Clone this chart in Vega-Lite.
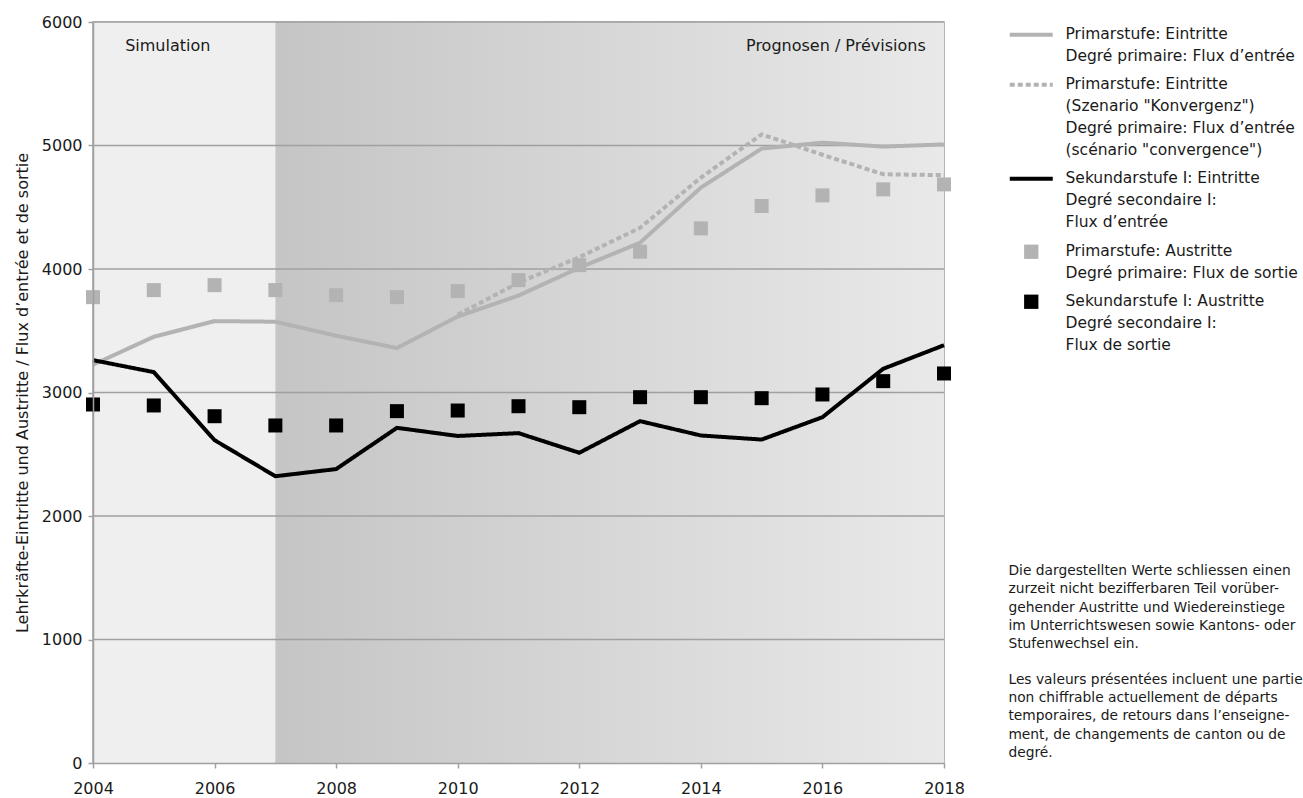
{
  "$schema": "https://vega.github.io/schema/vega-lite/v6.json",
  "width": 851,
  "height": 741,
  "autosize": {"type": "none"},
  "padding": {"left": 93, "top": 22, "right": 359, "bottom": 35},
  "background": "white",
  "datasets": {
    "phases": [
      {"start": 2004, "end": 2007, "phase": "Simulation"},
      {"start": 2007, "end": 2018, "phase": "Prognosen"}
    ],
    "grid": [{"v": 1000}, {"v": 2000}, {"v": 3000}, {"v": 4000}, {"v": 5000}, {"v": 6000}],
    "series": [
      {"year": 2004, "pe": 3225, "pk": null, "se": 3262, "pa": 3772, "sa": 2903},
      {"year": 2005, "pe": 3451, "pk": null, "se": 3165, "pa": 3829, "sa": 2895},
      {"year": 2006, "pe": 3578, "pk": null, "se": 2614, "pa": 3869, "sa": 2808},
      {"year": 2007, "pe": 3573, "pk": null, "se": 2322, "pa": 3829, "sa": 2733},
      {"year": 2008, "pe": 3460, "pk": null, "se": 2380, "pa": 3788, "sa": 2733},
      {"year": 2009, "pe": 3360, "pk": null, "se": 2714, "pa": 3772, "sa": 2849},
      {"year": 2010, "pe": 3615, "pk": 3630, "se": 2648, "pa": 3821, "sa": 2854},
      {"year": 2011, "pe": 3785, "pk": 3889, "se": 2671, "pa": 3910, "sa": 2889},
      {"year": 2012, "pe": 4010, "pk": 4095, "se": 2512, "pa": 4031, "sa": 2881},
      {"year": 2013, "pe": 4213, "pk": 4334, "se": 2768, "pa": 4140, "sa": 2962},
      {"year": 2014, "pe": 4659, "pk": 4740, "se": 2652, "pa": 4329, "sa": 2962},
      {"year": 2015, "pe": 4975, "pk": 5090, "se": 2619, "pa": 4510, "sa": 2954},
      {"year": 2016, "pe": 5023, "pk": 4925, "se": 2800, "pa": 4596, "sa": 2984},
      {"year": 2017, "pe": 4991, "pk": 4767, "se": 3192, "pa": 4645, "sa": 3092},
      {"year": 2018, "pe": 5009, "pk": 4760, "se": 3383, "pa": 4685, "sa": 3154}
    ],
    "labels": [
      {"key": "pe", "label": "Primarstufe: Eintritte|Degré primaire: Flux d’entrée"},
      {"key": "pk", "label": "Primarstufe: Eintritte|(Szenario \"Konvergenz\")|Degré primaire: Flux d’entrée|(scénario \"convergence\")"},
      {"key": "se", "label": "Sekundarstufe I: Eintritte|Degré secondaire I:|Flux d’entrée"},
      {"key": "pa", "label": "Primarstufe: Austritte|Degré primaire: Flux de sortie"},
      {"key": "sa", "label": "Sekundarstufe I: Austritte|Degré secondaire I:|Flux de sortie"}
    ],
    "notes": [
      {"year": 2005.23, "value": 5805, "note": "Simulation"},
      {"year": 2017.7, "value": 5805, "note": "Prognosen / Prévisions"}
    ],
    "footnote": [
      {"year": 2019.06, "value": 1610, "note": "Die dargestellten Werte schliessen einen\nzurzeit nicht bezifferbaren Teil vorüber-\ngehender Austritte und Wiedereinstiege\nim Unterrichtswesen sowie Kantons- oder\nStufenwechsel ein."},
      {"year": 2019.06, "value": 730, "note": "Les valeurs présentées incluent une partie\nnon chiffrable actuellement de départs\ntemporaires, de retours dans l’enseigne-\nment, de changements de canton ou de\ndegré."}
    ]
  },
  "layer": [
    {
      "data": {"name": "phases"},
      "transform": [{"filter": "datum.phase == 'Simulation'"}],
      "mark": {"type": "rect", "fill": "#efefef"},
      "encoding": {
        "x": {
          "field": "start", "type": "quantitative",
          "scale": {"domain": [2004, 2018], "nice": false, "zero": false},
          "axis": {
            "values": [2004, 2006, 2008, 2010, 2012, 2014, 2016, 2018],
            "format": "d", "title": null, "grid": false, "zindex": 1,
            "domainColor": "#a0a0a0", "domainWidth": 1.5,
            "tickColor": "#a0a0a0", "tickWidth": 1.5, "tickSize": 5,
            "labelFontSize": 16, "labelColor": "#1a1a1a", "labelPadding": 12,
            "labelFlush": false
          }
        },
        "x2": {"field": "end"}
      }
    },
    {
      "data": {"name": "phases"},
      "transform": [{"filter": "datum.phase == 'Prognosen'"}],
      "mark": {
        "type": "rect",
        "fill": {
          "gradient": "linear", "x1": 0, "y1": 0, "x2": 1, "y2": 0,
          "stops": [{"offset": 0, "color": "#c5c5c5"}, {"offset": 1, "color": "#e9e9e9"}]
        }
      },
      "encoding": {
        "x": {"field": "start", "type": "quantitative"},
        "x2": {"field": "end"}
      }
    },
    {
      "data": {"name": "grid"},
      "mark": {"type": "rule", "color": "#a0a0a0", "strokeWidth": 1.5},
      "encoding": {
        "y": {
          "field": "v", "type": "quantitative",
          "scale": {"domain": [0, 6000], "nice": false},
          "axis": {
            "values": [0, 1000, 2000, 3000, 4000, 5000, 6000],
            "format": "d",
            "grid": false, "zindex": 1,
            "domainColor": "#a0a0a0", "domainWidth": 1.5,
            "tickColor": "#a0a0a0", "tickWidth": 1.5, "tickSize": 5,
            "labelFontSize": 16, "labelColor": "#1a1a1a", "labelPadding": 6,
            "title": "Lehrkräfte-Eintritte und Austritte / Flux d’entrée et de sortie",
            "titleFontSize": 16, "titleFontWeight": "normal", "titleColor": "#1a1a1a",
            "titlePadding": 11
          }
        }
      }
    },
    {
      "data": {"name": "series"},
      "transform": [
        {"fold": ["pe", "pk", "se"], "as": ["key", "value"]},
        {"filter": "datum.value != null"},
        {"lookup": "key", "from": {"data": {"name": "labels"}, "key": "key", "fields": ["label"]}}
      ],
      "mark": {"type": "line", "strokeWidth": 4},
      "encoding": {
        "x": {"field": "year", "type": "quantitative"},
        "y": {"field": "value", "type": "quantitative"},
        "stroke": {
          "field": "label", "type": "nominal",
          "scale": {
            "domain": [
              "Primarstufe: Eintritte|Degré primaire: Flux d’entrée",
              "Primarstufe: Eintritte|(Szenario \"Konvergenz\")|Degré primaire: Flux d’entrée|(scénario \"convergence\")",
              "Sekundarstufe I: Eintritte|Degré secondaire I:|Flux d’entrée"
            ],
            "range": ["#b3b3b3", "#b3b3b3", "#000000"]
          },
          "legend": {
            "orient": "none", "legendX": 930.5, "legendY": -2.5, "title": null,
            "symbolType": "M-10.75,3.75H10.75", "symbolSize": 16, "symbolStrokeWidth": 4,
            "labelExpr": "split(datum.label, '|')", "labelBaseline": "top",
            "labelOffset": 26.5, "labelFontSize": 15.5, "labelColor": "#1a1a1a",
            "labelLimit": 500, "rowPadding": 4
          }
        },
        "strokeDash": {
          "field": "label", "type": "nominal",
          "scale": {
            "domain": [
              "Primarstufe: Eintritte|Degré primaire: Flux d’entrée",
              "Primarstufe: Eintritte|(Szenario \"Konvergenz\")|Degré primaire: Flux d’entrée|(scénario \"convergence\")",
              "Sekundarstufe I: Eintritte|Degré secondaire I:|Flux d’entrée"
            ],
            "range": [[1, 0], [5, 3], [1, 0]]
          },
          "legend": {
            "orient": "none", "legendX": 930.5, "legendY": -2.5, "title": null,
            "symbolType": "M-10.75,3.75H10.75", "symbolSize": 16, "symbolStrokeWidth": 4,
            "labelExpr": "split(datum.label, '|')", "labelBaseline": "top",
            "labelOffset": 26.5, "labelFontSize": 15.5, "labelColor": "#1a1a1a",
            "labelLimit": 500, "rowPadding": 4
          }
        }
      }
    },
    {
      "data": {"name": "series"},
      "transform": [
        {"fold": ["pa", "sa"], "as": ["key", "value"]},
        {"lookup": "key", "from": {"data": {"name": "labels"}, "key": "key", "fields": ["label"]}}
      ],
      "mark": {"type": "point", "shape": "square", "filled": true, "size": 196, "opacity": 1, "strokeWidth": 0},
      "encoding": {
        "x": {"field": "year", "type": "quantitative"},
        "y": {"field": "value", "type": "quantitative"},
        "fill": {
          "field": "label", "type": "nominal",
          "scale": {
            "domain": [
              "Primarstufe: Austritte|Degré primaire: Flux de sortie",
              "Sekundarstufe I: Austritte|Degré secondaire I:|Flux de sortie"
            ],
            "range": ["#b3b3b3", "#000000"]
          },
          "legend": {
            "orient": "none", "legendX": 930.5, "legendY": 214.5, "title": null,
            "symbolType": "M-3.575,0.175H3.575V7.325H-3.575Z", "symbolSize": 16,
            "symbolStrokeWidth": 0, "symbolOpacity": 1,
            "labelExpr": "split(datum.label, '|')", "labelBaseline": "top",
            "labelOffset": 26.5, "labelFontSize": 15.5, "labelColor": "#1a1a1a",
            "labelLimit": 500, "rowPadding": 4
          }
        }
      }
    },
    {
      "data": {"name": "notes"},
      "transform": [{"filter": "datum.note == 'Simulation'"}],
      "mark": {"type": "text", "fontSize": 16, "color": "#1a1a1a", "align": "center", "baseline": "middle"},
      "encoding": {
        "x": {"field": "year", "type": "quantitative"},
        "y": {"field": "value", "type": "quantitative"},
        "text": {"field": "note"}
      }
    },
    {
      "data": {"name": "notes"},
      "transform": [{"filter": "datum.note != 'Simulation'"}],
      "mark": {"type": "text", "fontSize": 16, "color": "#1a1a1a", "align": "right", "baseline": "middle"},
      "encoding": {
        "x": {"field": "year", "type": "quantitative"},
        "y": {"field": "value", "type": "quantitative"},
        "text": {"field": "note"}
      }
    },
    {
      "data": {"name": "footnote"},
      "mark": {"type": "text", "fontSize": 13.8, "lineHeight": 18.3, "lineBreak": "\n", "color": "#1a1a1a", "align": "left", "baseline": "top"},
      "encoding": {
        "x": {"field": "year", "type": "quantitative"},
        "y": {"field": "value", "type": "quantitative"},
        "text": {"field": "note"}
      }
    }
  ],
  "config": {
    "font": "DejaVu Sans",
    "view": {"stroke": "#a0a0a0", "strokeWidth": 1.5},
    "style": {"guide-label": {"lineHeight": 22}}
  }
}
